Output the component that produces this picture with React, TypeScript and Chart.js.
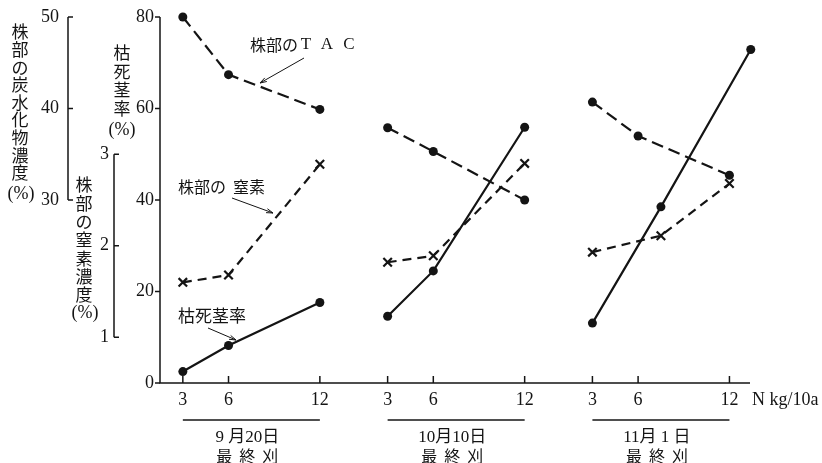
import React, { useEffect, useRef } from "react";
import { Chart, registerables } from "chart.js";

Chart.register(...registerables);

// N application rates shown on the x axis of every cutting group
const nRateTicks = [3, 6, 12];
// final cutting dates (one group each)
const cutDates = ["9 月20日", "10月10日", "11月 1 日"];
const cutLabel = ["最", "終", "刈"];

// 枯死茎率 (%) — x in N kg/10a, per group
const deadX = [
  [3, 6, 12],
  [3, 6, 12],
  [3, 7.5, 13.4],
];
const deadRate = [
  [2.5, 8.2, 17.6],
  [14.6, 24.5, 55.9],
  [13.1, 38.5, 72.9],
];

// 株部のTAC (炭水化物濃度 %)
const tacX = [
  [3, 6, 12],
  [3, 6, 12],
  [3, 6, 12],
];
const tacConc = [
  [50.0, 43.7, 39.9],
  [37.9, 35.3, 30.0],
  [40.7, 37.0, 32.7],
];

// 株部の窒素濃度 (%)
const nitroX = [
  [3, 6, 12],
  [3, 6, 12],
  [3, 7.5, 12],
];
const nitroConc = [
  [1.6, 1.68, 2.89],
  [1.82, 1.89, 2.9],
  [1.93, 2.11, 2.68],
];

// axis tick values
const deadTicks = [0, 20, 40, 60, 80];
const carbTicks = [30, 40, 50];
const nitroTicks = [1, 2, 3];

// horizontal distance between cutting groups, in x-scale units
const GROUP_GAP = 13.45;

const INK = "#141414";
const SERIF = '"Liberation Serif", "Noto Sans CJK JP", serif';
const JP = '"Noto Sans CJK JP", sans-serif';

function buildSeries(xs: number[][], ys: number[][]) {
  const out: { x: number; y: number | null }[] = [];
  xs.forEach((row, g) => {
    row.forEach((x, i) => out.push({ x: x + g * GROUP_GAP, y: ys[g][i] }));
    if (g < xs.length - 1) out.push({ x: 14 + g * GROUP_GAP, y: null });
  });
  return out;
}

function vertical(ctx: CanvasRenderingContext2D, chars: string, x: number, y0: number, step: number) {
  ctx.textAlign = "center";
  ctx.textBaseline = "middle";
  Array.from(chars).forEach((c, i) => ctx.fillText(c, x, y0 + i * step));
}

function arrow(ctx: CanvasRenderingContext2D, x1: number, y1: number, x2: number, y2: number) {
  ctx.beginPath();
  ctx.moveTo(x1, y1);
  ctx.lineTo(x2, y2);
  ctx.stroke();
  const a = Math.atan2(y2 - y1, x2 - x1);
  const L = 7;
  ctx.beginPath();
  ctx.moveTo(x2, y2);
  ctx.lineTo(x2 - L * Math.cos(a - 0.3), y2 - L * Math.sin(a - 0.3));
  ctx.moveTo(x2, y2);
  ctx.lineTo(x2 - L * Math.cos(a + 0.3), y2 - L * Math.sin(a + 0.3));
  ctx.stroke();
}

const axesPlugin = {
  id: "paperAxes",
  beforeDatasetsDraw(chart: any) {
    const { ctx, chartArea, scales } = chart;
    const { left, right, bottom } = chartArea;
    const sx = scales.x;
    const sy = scales.y;
    const sc = scales.yCarb;
    const sn = scales.yN;
    ctx.save();
    ctx.strokeStyle = INK;
    ctx.fillStyle = INK;
    ctx.lineWidth = 1.5;

    // main axis: 枯死茎率
    ctx.beginPath();
    ctx.moveTo(left, sy.getPixelForValue(80));
    ctx.lineTo(left, bottom);
    ctx.lineTo(right, bottom);
    ctx.stroke();
    ctx.font = `18px ${SERIF}`;
    ctx.textAlign = "right";
    ctx.textBaseline = "middle";
    deadTicks.forEach((v) => {
      const y = sy.getPixelForValue(v);
      ctx.beginPath();
      ctx.moveTo(left - 5, y);
      ctx.lineTo(left, y);
      ctx.stroke();
      ctx.fillText(String(v), left - 6, y);
    });

    // x ticks for each cutting group
    ctx.textAlign = "center";
    cutDates.forEach((d, g) => {
      nRateTicks.forEach((n) => {
        const x = sx.getPixelForValue(n + g * GROUP_GAP);
        ctx.beginPath();
        ctx.moveTo(x, bottom);
        ctx.lineTo(x, bottom - 7);
        ctx.stroke();
        ctx.font = `18px ${SERIF}`;
        ctx.fillText(String(n), x, bottom + 17);
      });
      const xa = sx.getPixelForValue(nRateTicks[0] + g * GROUP_GAP);
      const xb = sx.getPixelForValue(nRateTicks[nRateTicks.length - 1] + g * GROUP_GAP);
      ctx.lineWidth = 1.3;
      ctx.beginPath();
      ctx.moveTo(xa, bottom + 37);
      ctx.lineTo(xb, bottom + 37);
      ctx.stroke();
      ctx.lineWidth = 1.5;
      const cx = (xa + xb) / 2 - 4;
      ctx.font = `17px ${SERIF}`;
      ctx.fillText(d, cx, bottom + 55);
      ctx.font = `16px ${JP}`;
      cutLabel.forEach((c, i) => ctx.fillText(c, cx + (i - 1) * 23, bottom + 73));
    });
    ctx.textAlign = "left";
    ctx.font = `18px ${SERIF}`;
    ctx.fillText("N kg/10a", right + 2, bottom + 17);

    // 炭水化物濃度 axis (bracket with ticks to the right)
    const cx0 = 68;
    ctx.beginPath();
    ctx.moveTo(cx0, sc.getPixelForValue(50));
    ctx.lineTo(cx0, sc.getPixelForValue(30));
    ctx.stroke();
    ctx.textAlign = "right";
    carbTicks.forEach((v) => {
      const y = sc.getPixelForValue(v);
      ctx.beginPath();
      ctx.moveTo(cx0, y);
      ctx.lineTo(cx0 + 5, y);
      ctx.stroke();
      ctx.fillText(String(v), cx0 - 9, y);
    });

    // 窒素濃度 axis
    const nx0 = 114;
    ctx.beginPath();
    ctx.moveTo(nx0, sn.getPixelForValue(3));
    ctx.lineTo(nx0, sn.getPixelForValue(1));
    ctx.stroke();
    nitroTicks.forEach((v) => {
      const y = sn.getPixelForValue(v);
      ctx.beginPath();
      ctx.moveTo(nx0, y);
      ctx.lineTo(nx0 + 5, y);
      ctx.stroke();
      ctx.fillText(String(v), nx0 - 5, y);
    });

    // axis titles
    ctx.font = `17px ${JP}`;
    vertical(ctx, "株部の炭水化物濃度", 20, 32, 17.6);
    vertical(ctx, "株部の窒素濃度", 84, 185, 18.3);
    vertical(ctx, "枯死茎率", 122, 53, 18.5);
    ctx.font = `18px ${SERIF}`;
    ctx.fillText("(%)", 21, 194);
    ctx.fillText("(%)", 85, 313);
    ctx.fillText("(%)", 122, 130);
    ctx.restore();
  },
  afterDatasetsDraw(chart: any) {
    const { ctx } = chart;
    ctx.save();
    ctx.fillStyle = INK;
    ctx.strokeStyle = INK;
    ctx.lineWidth = 1;
    ctx.textBaseline = "middle";
    ctx.textAlign = "left";

    // 株部のTAC
    ctx.font = `16px ${JP}`;
    ctx.fillText("株部の", 250, 45);
    ctx.font = `17px ${SERIF}`;
    ctx.textAlign = "center";
    ctx.fillText("T", 306, 45);
    ctx.fillText("A", 327, 45);
    ctx.fillText("C", 349, 45);
    arrow(ctx, 304, 58, 260, 83);

    // 株部の窒素
    ctx.textAlign = "left";
    ctx.font = `16px ${JP}`;
    ctx.fillText("株部の", 178, 187);
    ctx.fillText("窒素", 233, 187);
    arrow(ctx, 232, 198, 273, 213);

    // 枯死茎率
    ctx.font = `17px ${JP}`;
    ctx.fillText("枯死茎率", 178, 316);
    arrow(ctx, 208, 328, 236, 340);
    ctx.restore();
  },
};

export default function App() {
  const ref = useRef<HTMLCanvasElement | null>(null);

  useEffect(() => {
    if (!ref.current) return;
    const chart = new Chart(ref.current, {
      type: "line",
      data: {
        datasets: [
          {
            label: "株部のTAC",
            data: buildSeries(tacX, tacConc),
            yAxisID: "yCarb",
            borderColor: INK,
            backgroundColor: INK,
            borderWidth: 2.2,
            borderDash: [12, 6],
            pointRadius: 4.5,
            pointStyle: "circle",
            pointBorderWidth: 0,
            spanGaps: false,
            clip: false,
          },
          {
            label: "株部の窒素",
            data: buildSeries(nitroX, nitroConc),
            yAxisID: "yN",
            borderColor: INK,
            backgroundColor: INK,
            borderWidth: 2.2,
            borderDash: [9, 6],
            pointRadius: 6,
            pointStyle: "crossRot",
            pointBorderWidth: 2.2,
            spanGaps: false,
            clip: false,
          },
          {
            label: "枯死茎率",
            data: buildSeries(deadX, deadRate),
            yAxisID: "y",
            borderColor: INK,
            backgroundColor: INK,
            borderWidth: 2.2,
            pointRadius: 4.5,
            pointStyle: "circle",
            pointBorderWidth: 0,
            spanGaps: false,
            clip: false,
          },
        ],
      },
      options: {
        animation: false,
        responsive: false,
        devicePixelRatio: 1,
        layout: { padding: { left: 160, right: 72, top: 17, bottom: 80 } },
        plugins: { legend: { display: false }, tooltip: { enabled: false } },
        elements: { line: { tension: 0 } },
        scales: {
          x: { type: "linear", min: 1.5, max: 40.25, display: false },
          y: { type: "linear", min: 0, max: 80, display: false },
          yCarb: { type: "linear", min: 10, max: 50, display: false },
          yN: { type: "linear", min: 0.5, max: 4.5, display: false },
        },
      },
      plugins: [axesPlugin],
    });
    return () => chart.destroy();
  }, []);

  return (
    <div style={{ position: "absolute", left: 0, top: 0, width: 822, height: 463, background: "#fff" }}>
      <canvas ref={ref} width={822} height={463} />
    </div>
  );
}
